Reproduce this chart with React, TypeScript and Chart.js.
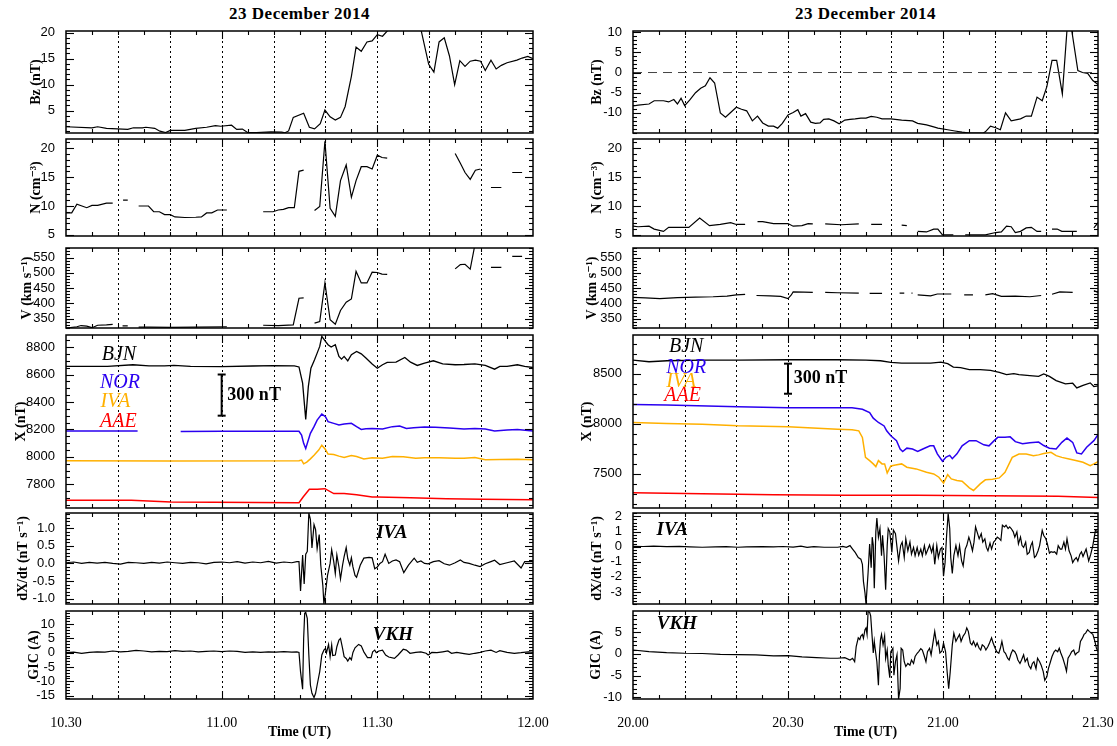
import React, { useEffect, useRef } from "react";
import { Chart, registerables } from "chart.js";
Chart.register(...registerables);

type Pt = [number, number | null];

const TITLE = "23 December 2014";
const LEFT_TIME_LABELS = ["10.30", "11.00", "11.30", "12.00"];
const RIGHT_TIME_LABELS = ["20.00", "20.30", "21.00", "21.30"];
const MAJOR_TIME_MIN = [0, 30, 60, 90];
const DOTTED_MIN = [10, 20, 30, 40, 50, 60, 70, 80];

// ---------------- LEFT COLUMN (10.30-12.00 UT), time in minutes after 10.30 ----------------
const BZ_L: Pt[] = [[0,1.9],[5.0,1.7],[6.1,1.9],[7.8,1.6],[9.9,1.5],[11.9,1.4],[13.0,1.7],[14.7,1.7],[15.4,1.8],[17.1,1.6],[18.1,1.05],[19.2,0.8],[20.1,1.2],[22.9,1.2],[25.0,1.6],[27.1,1.8],[28.8,2.1],[29.8,2.0],[31.9,2.2],[32.9,1.4],[34.0,1.45],[35.0,0.8],[36.7,0.8],[39.5,0.9],[41.6,0.85],[42.2,0.75],[42.9,1.1],[43.8,3.7],[45.8,4.5],[46.9,1.8],[47.9,1.5],[49.0,2.5],[49.9,5.1],[50.9,3.8],[51.9,3.2],[52.9,3.7],[53.8,5.8],[55.0,11.6],[55.9,17.2],[56.9,16.4],[58.0,18.2],[59.0,18.4],[60.0,19.6],[61.0,19.3],[62.0,20.4],[63.0,21.6],[65.0,22.5],[67.0,22.0],[68.2,21.5],[69.9,13.9],[70.9,12.4],[71.9,18.2],[72.9,19.0],[73.9,15.5],[74.9,10.0],[75.9,14.6],[76.9,13.5],[77.9,14.5],[78.9,14.7],[79.9,14.5],[80.8,12.7],[81.9,14.7],[82.9,13.0],[83.9,13.7],[85.0,14.2],[86.9,14.7],[87.9,15.1],[89.0,15.4],[90,15.0]];

const N_L: Pt[] = [[0,8.8],[1.1,8.8],[2.1,10.3],[4.0,9.7],[5.0,10.1],[6.1,10.1],[7.8,10.5],[9.0,10.5],[10,null],[11.0,11.0],[11.9,11.0],[13,null],[14.0,10.0],[15.9,10.0],[16.9,9.0],[18.0,9.0],[19.0,8.5],[20.1,8.5],[21.0,8.1],[22.9,8.0],[25.0,8.05],[26.1,8.1],[27.1,8.8],[28.1,8.8],[29.2,9.3],[31.0,9.3],[35,null],[38.0,9.0],[39.9,9.0],[40.9,9.3],[41.9,9.4],[42.9,9.7],[44.0,9.7],[44.9,16.0],[45.8,16.2],[47,null],[47.9,9.2],[48.9,9.9],[49.9,21.2],[50.9,9.6],[51.9,8.2],[52.9,14.4],[54.0,17.1],[55.0,11.5],[55.9,14.4],[56.9,16.8],[58.0,16.8],[59.0,16.4],[60.0,18.8],[60.9,18.4],[61.9,18.3],[68,null],[75.0,19.1],[76.0,17.4],[76.9,15.8],[77.9,14.6],[78.9,16.2],[79.9,16.4],[81,null],[81.9,13.2],[83.9,13.2],[85,null],[86.0,15.8],[87.9,15.8]];

const V_L: Pt[] = [[0,320],[2.1,324],[2.9,328],[4.0,326],[5.0,321],[6.1,329],[7.8,330],[9.0,332],[10,null],[10.9,327],[11.9,327],[13,null],[14.0,323],[16.1,323],[20.2,322],[25.0,323],[31.0,324],[35,null],[38.0,329],[40.9,328],[43.8,330],[44.9,417],[45.8,418],[47,null],[47.9,336],[48.9,341],[49.9,467],[50.9,347],[51.9,332],[52.9,377],[54.0,404],[55.0,415],[55.9,505],[56.9,467],[58.0,467],[59.0,502],[60.0,501],[60.9,496],[61.9,495],[68,null],[75.0,513],[76.0,527],[76.9,528],[77.9,512],[78.9,600],[80,null],[81.9,518],[83.9,518],[85,null],[86.0,554],[87.9,554]];

const BJN_L: Pt[] = [[0,8659],[8,8660],[12.9,8671],[16,8663],[19,8663],[20.8,8667],[24,8659],[30,8658],[36,8662],[40,8665],[44.0,8663],[44.9,8655],[45.6,8537],[46.2,8273],[46.7,8512],[47.2,8646],[47.9,8707],[48.4,8756],[48.9,8805],[49.3,8878],[50.0,8841],[50.5,8817],[51.1,8800],[51.9,8817],[52.6,8732],[53.1,8712],[53.6,8732],[54.3,8700],[55.0,8744],[56.0,8768],[56.9,8751],[57.8,8720],[59.0,8676],[60.0,8646],[61.0,8671],[61.9,8688],[63.6,8690],[65.3,8724],[66.4,8690],[67.7,8666],[69.1,8683],[70.8,8700],[72.6,8678],[75.0,8671],[76.7,8673],[78.8,8678],[80.8,8666],[82.6,8639],[83.6,8659],[85.0,8659],[87.0,8671],[88.4,8659],[90,8651]];

const NOR_L: Pt[] = [[0,8188],[13.8,8188],[14,null],[22.1,8185],[30,8186],[40,8186],[44.9,8186],[45.4,8159],[45.8,8098],[46.2,8061],[46.5,8098],[47.1,8171],[47.8,8220],[48.4,8268],[49.3,8312],[50.0,8293],[50.5,8256],[51.6,8244],[52.6,8232],[53.6,8239],[55.0,8244],[56.0,8220],[56.9,8200],[57.8,8205],[59.0,8207],[60.0,8205],[61.0,8203],[62.9,8220],[64.3,8224],[65.6,8207],[67.0,8212],[69.1,8217],[71.2,8215],[73.9,8210],[76.7,8203],[78.8,8207],[80.8,8203],[82.6,8188],[85.0,8195],[87.0,8200],[90,8188]];

const IVA_L: Pt[] = [[0,7971],[20,7970],[44.9,7971],[45.4,7976],[45.8,7949],[46.4,7961],[47.1,7985],[47.8,8012],[48.7,8049],[49.3,8085],[50.0,8054],[50.5,8020],[51.6,8017],[52.6,8005],[53.6,7995],[55.0,8010],[56.0,8002],[57.4,7985],[59.0,7993],[61.0,7990],[62.9,8002],[65.0,8000],[67.4,7990],[69.1,7993],[71.9,7993],[75.0,7990],[76.7,7990],[78.8,7995],[80.8,7978],[83.6,7980],[87.0,7983],[90,7978]];

const AAE_L: Pt[] = [[0,7683],[12.6,7683],[20.2,7671],[44.9,7666],[45.7,7707],[46.9,7763],[48.4,7763],[49.9,7768],[51.6,7732],[53.6,7732],[56.0,7724],[59.0,7707],[60.0,7707],[66.4,7702],[73.3,7695],[80.2,7690],[90,7688]];

const DXDT_L: Pt[] = [[0,0.02],[1.5,0.04],[3,0.0],[4.5,0.03],[6,0.01],[7.5,0.03],[9,0.0],[10.5,-0.02],[12,0.03],[13.5,0.02],[15,0.0],[16.5,0.03],[18,0.01],[19.5,0.04],[21,0.02],[22.5,0.0],[24,0.03],[25.5,0.02],[27,-0.01],[28.5,0.03],[30,0.04],[31.5,0.02],[33,0.05],[34.5,0.01],[36,0.04],[37.5,0.02],[39,0.06],[40.5,0.01],[42,0.04],[43.5,0.02],[44.5,0.05],[44.9,0.05],[45.2,-0.78],[45.6,0.24],[45.9,-0.58],[46.2,0.26],[46.5,0.34],[46.8,1.43],[47.1,1.25],[47.4,0.44],[47.8,1.1],[48.1,0.96],[48.4,0.42],[48.8,0.82],[49.1,-0.05],[49.5,-0.63],[49.7,-1.15],[50.0,-0.83],[50.4,-0.34],[50.9,0.0],[51.2,0.39],[51.6,0.05],[51.9,-0.29],[52.2,0.24],[52.6,-0.1],[52.9,-0.44],[53.3,-0.05],[53.6,0.19],[54.0,0.45],[54.3,0.14],[54.7,-0.05],[55.0,0.16],[55.3,-0.1],[55.7,-0.34],[56.0,-0.39],[56.7,-0.05],[57.4,0.15],[58.4,0.17],[59.0,0.16],[59.5,-0.15],[60.0,-0.1],[60.5,0.0],[61.0,0.05],[61.5,0.26],[62.2,0.0],[62.9,0.07],[63.6,0.1],[64.3,0.05],[65.1,-0.26],[66.0,-0.05],[67.1,0.15],[67.7,0.03],[68.4,0.07],[69.1,0.0],[69.8,-0.01],[70.8,0.05],[71.9,0.08],[72.9,-0.01],[73.9,-0.05],[75.0,0.02],[76.0,0.1],[76.7,0.03],[77.7,0.0],[78.8,-0.05],[79.8,-0.09],[80.8,-0.01],[81.9,0.05],[82.6,0.09],[83.6,-0.03],[85.0,0.02],[86.4,0.07],[87.7,-0.13],[88.4,0.05],[90,0.05]];

const GIC_L: Pt[] = [[0,0.0],[1.5,0.2],[3,-0.2],[4.5,0.1],[6,0.3],[7.5,0.2],[9,0.6],[10.5,0.3],[12,0.5],[13.5,0.8],[15,0.6],[16.5,0.3],[18,0.5],[19.5,0.4],[21,0.7],[22.5,0.5],[24,0.6],[25.5,0.3],[27,0.5],[28.5,0.6],[30,0.4],[31.5,0.6],[33,0.5],[34.5,0.1],[36,0.3],[37.5,0.1],[39,0.3],[40.5,0.2],[42,0.4],[43.5,0.2],[44.5,0.3],[44.9,0.1],[45.2,-6.6],[45.6,-12.8],[45.8,5.0],[46.0,13.8],[46.2,14.1],[46.5,12.0],[46.8,-0.8],[47.1,-11.3],[47.4,-14.2],[47.8,-15.7],[48.1,-14.2],[48.4,-11.3],[48.9,-6.6],[49.3,-0.8],[49.7,0.9],[50.0,1.5],[50.2,0.0],[50.6,2.9],[50.9,-1.4],[51.2,2.7],[51.4,-1.0],[51.9,-0.8],[52.2,2.1],[52.6,4.4],[52.9,5.0],[53.3,1.5],[53.6,-1.4],[54.0,-2.0],[54.3,-2.9],[54.7,-1.7],[55.0,-2.5],[55.3,0.1],[55.7,1.7],[56.4,2.9],[56.9,2.4],[57.4,0.3],[58.1,-1.7],[58.8,-1.7],[59.1,0.3],[59.5,0.9],[59.8,0.0],[60.3,0.6],[61.0,0.9],[61.6,-0.8],[62.2,-1.5],[63.3,-2.0],[64.0,-0.8],[65.0,1.2],[65.6,0.9],[66.3,-0.2],[67.4,0.1],[68.4,0.3],[69.4,-0.2],[69.8,-0.8],[70.5,0.1],[71.5,0.0],[72.6,0.3],[73.6,0.6],[74.3,-0.2],[75.3,0.1],[76.7,-0.3],[77.7,-0.6],[78.8,-0.2],[79.8,0.1],[80.8,0.6],[81.9,0.9],[82.9,0.1],[83.6,0.7],[85.0,0.1],[86.4,-0.2],[87.7,0.0],[89.1,0.3],[90,0.1]];

// ---------------- RIGHT COLUMN (20.00-21.30 UT), time in minutes after 20.00 ----------------
const BZ_R: Pt[] = [[0,-8.3],[1.0,-8.1],[3.1,-7.8],[4.1,-7.0],[5.9,-7.0],[6.9,-7.3],[7.9,-6.7],[8.6,-7.8],[9.3,-6.4],[10.0,-8.2],[11.0,-6.8],[12.1,-5.0],[13.1,-3.9],[14.0,-3.3],[14.9,-1.3],[15.8,-2.6],[16.9,-10.0],[17.9,-11.1],[18.9,-9.9],[20.0,-8.6],[21.0,-9.1],[22.0,-9.5],[23.1,-12.0],[24.1,-10.8],[25.1,-12.5],[26.2,-13.3],[27.2,-13.3],[28.0,-13.8],[28.9,-12.6],[30.0,-10.5],[31.0,-9.9],[31.9,-9.2],[32.5,-10.8],[33.4,-10.2],[34.4,-12.3],[35.3,-12.6],[36.2,-12.5],[36.9,-11.6],[37.9,-11.5],[38.9,-12.0],[39.9,-12.7],[41.0,-11.8],[42.0,-11.6],[43.0,-11.5],[44.1,-11.3],[45.1,-11.3],[46.1,-10.9],[47.2,-11.1],[48.2,-11.5],[49.9,-11.5],[52.0,-11.8],[54.1,-12.0],[55.1,-12.6],[56.8,-13.0],[58.2,-13.5],[59.0,-13.8],[60.9,-14.2],[62.3,-14.5],[63.7,-14.8],[65.1,-15.0],[67.8,-15.0],[68.2,-14.7],[69.2,-13.3],[70.2,-13.7],[71.1,-14.2],[72.1,-10.0],[73.2,-12.0],[75.0,-11.5],[76.1,-10.8],[77.1,-10.8],[78.2,-6.1],[79.2,-7.0],[80.1,-3.5],[81.1,3.0],[82.0,3.0],[83.1,-5.3],[84.0,10.6],[84.9,10.6],[86.1,0.5],[87.0,0.0],[88.0,-0.2],[89.0,-2.0],[90,-3.0]];
const BZ_ZERO_R: Pt[] = [[0,0],[90,0]];

const N_R: Pt[] = [[0,6.5],[1.0,6.4],[3.1,6.5],[4.1,6.0],[5.9,5.6],[6.9,6.3],[9.0,6.3],[10.8,6.3],[12.9,7.9],[14.8,6.6],[16.9,6.8],[18.9,7.1],[20.0,6.8],[21.7,6.8],[22.8,null],[24.1,7.3],[25.1,7.3],[27.2,6.95],[30.0,6.95],[31.0,6.5],[32.7,6.6],[33.9,6.95],[34.8,6.9],[36,null],[37.2,6.9],[40.3,6.75],[43.7,6.9],[45,null],[46.1,6.8],[48.2,6.8],[50,null],[52.0,6.7],[53.0,6.6],[54,null],[55.1,5.6],[56.8,5.5],[58.2,6.0],[59.0,6.0],[59.9,5.0],[62.0,5.0],[63,null],[64.3,5.0],[68.2,5.0],[70.2,5.4],[71.3,5.5],[72.3,6.5],[73.2,6.4],[74.0,5.4],[75.0,5.6],[76.1,6.2],[77.1,6.3],[78.2,5.6],[79.0,5.6],[80,null],[81.1,6.0],[82.1,6.0],[83.0,5.6],[85.9,5.6],[87,null],[89.2,6.2],[90,7.1]];

const V_R: Pt[] = [[0,420],[2.4,418],[5.2,416],[8.6,419],[12.1,421],[15.5,422],[18.2,424],[20.0,428],[21.7,430],[22.8,null],[23.9,426],[26.5,425],[28.6,423],[30.0,416],[30.6,427],[31.0,438],[33.1,437],[34.8,436],[36,null],[37.2,436],[39.6,435],[43.7,434],[45,null],[45.8,433],[48.2,433],[50,null],[51.6,434],[52.5,434],[53.2,null],[53.9,434],[54.1,434],[54.6,null],[55.1,428],[57.6,425],[58.9,431],[61.6,431],[63,null],[64.1,428],[65.8,428],[67,null],[68.2,428],[69.6,432],[71.3,423],[74.0,424],[76.8,422],[79.0,426],[80,null],[81.1,430],[82.6,438],[85.1,436],[87,null],[89.2,442],[90,436]];

const BJN_R: Pt[] = [[0,8635],[3.1,8619],[6.6,8629],[13.5,8635],[20.4,8635],[30.0,8639],[39.6,8639],[45.1,8636],[47.9,8629],[49.9,8612],[52.0,8606],[54.8,8606],[57.6,8606],[59.6,8616],[60.9,8600],[62.0,8566],[63.4,8560],[65.1,8540],[67.2,8540],[69.2,8534],[70.9,8513],[72.3,8490],[73.7,8500],[74.7,8490],[76.8,8480],[78.5,8473],[79.5,8497],[80.6,8473],[81.9,8431],[83.7,8398],[85.1,8405],[85.9,8358],[87.1,8384],[88.5,8408],[89.2,8372],[90,8378]];

const NOR_R: Pt[] = [[0,8193],[6.5,8188],[20.3,8170],[30.0,8160],[42.4,8160],[44.4,8145],[45.8,8112],[46.5,8056],[47.5,8013],[48.6,7979],[49.1,7930],[49.9,7880],[51.0,7832],[51.7,7749],[52.2,7724],[53.0,7757],[54.1,7749],[55.1,7724],[56.1,7749],[57.5,7780],[58.2,7780],[58.9,7700],[59.9,7627],[60.6,7668],[61.3,7685],[61.8,7652],[62.7,7700],[63.7,7780],[65.1,7832],[66.4,7832],[67.9,7790],[68.9,7780],[69.9,7832],[70.6,7865],[72.0,7865],[73.0,7870],[74.0,7822],[75.4,7802],[76.8,7812],[78.5,7818],[79.5,7783],[80.6,7757],[81.9,7749],[83.0,7815],[84.0,7858],[85.1,7815],[85.9,7710],[86.8,7700],[87.8,7766],[89.2,7832],[90,7892]];

const IVA_R: Pt[] = [[0,8012],[6.5,8002],[13.4,7995],[20.3,7980],[30.0,7970],[39.6,7946],[42.4,7940],[43.7,7930],[44.4,7864],[45.0,7666],[45.8,7633],[46.5,7600],[47.0,7573],[47.5,7633],[48.2,7600],[48.7,7600],[49.2,7510],[49.9,7580],[50.8,7589],[52.0,7600],[53.0,7567],[54.8,7550],[56.8,7516],[58.2,7500],[59.2,7467],[60.1,7408],[60.9,7493],[61.6,7450],[62.7,7434],[63.7,7427],[65.1,7361],[65.9,7335],[67.2,7401],[68.2,7441],[69.6,7447],[70.9,7460],[72.0,7517],[73.4,7665],[74.7,7698],[76.1,7698],[77.5,7682],[78.5,7690],[79.5,7703],[80.9,7715],[81.9,7682],[83.0,7665],[84.4,7649],[85.7,7633],[87.1,7616],[88.5,7583],[89.2,7600],[90,7622]];

const AAE_R: Pt[] = [[0,7312],[13.4,7302],[27.2,7292],[41.0,7286],[54.8,7286],[68.5,7283],[82.3,7277],[90,7266]];

const DXDT_R: Pt[] = [[0,0.02],[2,0.01],[4,0.03],[6.5,0.0],[9,0.02],[11,-0.01],[13.4,-0.04],[16,-0.02],[18,0.0],[20.3,-0.04],[22,-0.02],[25,0.0],[27.2,-0.02],[29,0.01],[31,-0.03],[32.5,0.03],[33.7,-0.05],[35,0.0],[37,-0.04],[39.6,-0.04],[40.6,0.02],[41.3,-0.04],[42.0,0.07],[42.5,-0.16],[43.0,-0.38],[43.6,-0.72],[44.1,-0.83],[44.4,-1.17],[44.6,-2.3],[44.9,-3.07],[45.1,-3.8],[45.5,-1.73],[45.8,0.18],[46.1,-1.4],[46.3,0.63],[46.5,0.11],[46.7,-2.75],[47.0,0.98],[47.2,1.89],[47.5,0.63],[47.8,1.2],[48.1,-0.6],[48.3,0.76],[48.6,-0.6],[48.9,-2.86],[49.2,0.07],[49.4,1.2],[49.7,0.98],[50.1,-0.38],[50.4,1.1],[50.8,0.86],[51.1,-0.05],[51.4,-0.95],[51.8,0.07],[52.1,0.3],[52.5,-0.72],[52.8,0.52],[53.2,-0.27],[53.6,0.3],[53.9,-0.5],[54.3,-0.05],[54.6,-0.6],[55.0,-0.05],[55.3,-0.56],[55.7,-0.16],[56.0,-0.6],[56.4,0.07],[56.7,-0.5],[57.1,-0.16],[57.4,0.11],[57.8,-0.38],[58.1,0.07],[58.4,-1.17],[58.8,0.07],[59.1,-0.72],[59.5,-0.16],[59.8,-0.05],[60.1,-1.96],[60.4,-1.06],[60.7,0.76],[61.0,2.2],[61.3,1.2],[61.5,-0.72],[61.8,-1.77],[62.1,-0.6],[62.5,0.07],[62.9,-0.6],[63.2,0.07],[63.6,-0.95],[63.9,-1.28],[64.3,-0.16],[64.6,0.07],[65.0,0.63],[65.3,0.3],[65.7,-0.27],[66.0,0.3],[66.3,1.31],[66.7,0.86],[67.0,0.52],[67.4,0.86],[67.7,0.3],[68.1,0.52],[68.4,-0.05],[68.7,-0.27],[69.1,0.23],[69.4,-0.16],[69.8,0.3],[70.1,0.41],[70.5,0.63],[70.8,0.56],[71.2,0.41],[71.5,1.42],[71.9,1.31],[72.2,1.42],[72.6,1.2],[72.9,1.31],[73.2,1.2],[73.6,0.98],[73.9,0.63],[74.3,0.98],[74.6,0.18],[75.0,0.63],[75.3,0.07],[75.6,-0.05],[76.0,0.3],[76.3,-0.5],[76.7,-0.38],[77.0,0.07],[77.3,0.3],[77.7,-0.72],[78.0,-0.61],[78.4,-0.27],[78.7,0.07],[79.2,1.08],[79.5,0.74],[79.9,0.52],[80.2,0.18],[80.6,-0.43],[80.9,-0.34],[81.3,-0.38],[81.6,-0.34],[82.0,-0.5],[82.3,0.07],[82.7,-0.16],[83.0,-0.16],[83.4,0.3],[83.7,-0.16],[84.0,0.52],[84.4,-0.27],[84.8,-0.61],[85.1,-1.06],[85.4,-0.88],[85.8,-0.72],[86.1,-0.95],[86.5,-0.5],[86.8,-0.34],[87.1,-0.65],[87.7,-0.16],[88.2,-0.95],[88.6,-0.5],[89.0,0.07],[89.5,1.08],[90,0.97]];

const GIC_R: Pt[] = [[0,0.9],[3.1,0.55],[6.5,0.3],[10.0,0.15],[13.4,0.1],[16.9,-0.1],[20.3,-0.15],[23.8,-0.2],[27.2,-0.45],[30.0,-0.4],[32.7,-0.7],[35.5,-0.85],[38.2,-1.0],[39.6,-1.0],[41.0,-0.85],[42.0,-1.4],[42.5,-1.0],[42.9,-1.8],[43.2,1.7],[43.6,3.7],[43.9,3.3],[44.1,4.1],[44.4,4.5],[44.6,3.6],[44.9,5.6],[45.1,6.0],[45.3,4.5],[45.5,9.8],[45.8,9.6],[46.0,8.8],[46.3,3.7],[46.5,0.2],[46.7,2.9],[46.9,0.9],[47.2,-1.8],[47.5,-7.2],[47.7,-0.2],[47.9,3.3],[48.1,4.5],[48.4,2.1],[48.7,4.1],[48.9,-1.0],[49.2,0.9],[49.4,-2.6],[49.7,-5.5],[49.9,0.5],[50.3,1.3],[50.5,-4.9],[50.8,-1.8],[51.1,-0.2],[51.4,-10.4],[51.7,-8.0],[51.9,1.3],[52.2,0.9],[52.5,-1.8],[52.8,-2.9],[53.2,-2.2],[53.6,-2.6],[53.9,-1.4],[54.3,-2.2],[54.6,-0.6],[55.0,0.15],[55.3,0.55],[55.7,1.2],[56.0,0.9],[56.3,-0.2],[56.7,-1.8],[57.0,0.5],[57.4,1.3],[57.7,-0.2],[58.1,2.9],[58.4,5.2],[58.8,2.1],[59.1,2.9],[59.4,0.2],[59.8,0.7],[60.1,2.5],[60.5,0.5],[60.8,-4.1],[61.1,-8.0],[61.4,-4.1],[61.8,2.1],[62.1,4.8],[62.5,2.9],[62.8,3.6],[63.2,4.5],[63.5,2.9],[63.9,4.1],[64.3,4.8],[64.6,6.0],[64.9,5.2],[65.3,2.5],[65.6,2.1],[65.9,2.9],[66.3,1.7],[66.6,2.5],[67.0,1.3],[67.3,0.9],[67.6,2.1],[68.0,1.7],[68.3,0.9],[68.7,1.7],[69.0,2.5],[69.4,3.7],[69.7,2.5],[70.1,1.3],[70.4,0.5],[70.8,0.15],[71.1,1.3],[71.4,2.9],[71.8,0.5],[72.1,0.15],[72.5,-1.0],[72.8,-1.4],[73.2,0.15],[73.5,0.9],[73.9,0.5],[74.2,-0.2],[74.5,-1.4],[74.9,-2.2],[75.2,-1.4],[75.6,-0.2],[75.9,-1.8],[76.3,-1.0],[76.6,-2.6],[77.0,-3.4],[77.3,-2.2],[77.6,-1.8],[78.0,-3.4],[78.3,-1.0],[78.7,-1.8],[79.0,-2.6],[79.4,-4.1],[79.7,-6.1],[80.1,-5.3],[80.4,-3.4],[80.8,-1.8],[81.1,-0.6],[81.5,0.5],[81.8,0.9],[82.2,0.5],[82.5,1.3],[82.8,0.2],[83.2,-1.0],[83.6,-2.6],[83.9,-4.0],[84.2,-1.0],[84.6,-0.2],[84.9,0.5],[85.3,0.9],[85.6,-0.2],[85.9,0.2],[86.3,0.5],[86.6,2.9],[87.0,3.7],[87.3,4.5],[87.6,4.8],[88.0,5.6],[88.3,5.2],[88.7,4.8],[89.0,4.5],[89.4,2.9],[89.7,1.3],[90,0.55]];

// ---------------- axis ranges / tick labels ----------------
const BZ_L_TICKS = [5, 10, 15, 20];
const BZ_R_TICKS = [-10, -5, 0, 5, 10];
const N_TICKS = [5, 10, 15, 20];
const V_TICKS = [350, 400, 450, 500, 550];
const X_L_TICKS = [7800, 8000, 8200, 8400, 8600, 8800];
const X_R_TICKS = [7500, 8000, 8500];
const DXDT_L_TICKS = [-1.0, -0.5, 0.0, 0.5, 1.0];
const DXDT_R_TICKS = [-3, -2, -1, 0, 1, 2];
const GIC_L_TICKS = [-15, -10, -5, 0, 5, 10];
const GIC_R_TICKS = [-10, -5, 0, 5];

const BLUE = "#2a00f0";
const ORANGE = "#ffb000";
const RED = "#ff0000";
const SERIF = '"Liberation Serif", "DejaVu Serif", serif';
const SANS = '"Liberation Sans", "DejaVu Sans", sans-serif';

interface Series { data: Pt[]; color: string; width: number; dash?: number[] }
interface Note { text: string; x: number; y: number; color: string; font: string }
interface Bar { x: number; y0: number; y1: number; text: string; textX: number }
interface PanelCfg {
  key: string;
  plotLeft: number; plotTop: number; plotW: number; plotH: number; axisW: number;
  yMin: number; yMax: number; yTicks: number[]; yMinor: number; yDec: number; yTitle: string;
  series: Series[]; notes?: Note[]; bar?: Bar; timeLabels?: string[];
}

const COL_L = { left: 66, w: 467 };
const COL_R = { left: 633, w: 465 };
const ROWS: [number, number][] = [[31, 133], [139, 236], [248, 328], [335, 508], [513, 604], [611, 699]];

const NOTE_FONT = `italic 20px ${SERIF}`;
const NOTE_FONT_B = `italic bold 19px ${SERIF}`;

function mk(col: { left: number; w: number }, row: number, axisW: number, rest: Partial<PanelCfg>): PanelCfg {
  const [t, b] = ROWS[row];
  return {
    key: `${col.left}-${row}`,
    plotLeft: col.left, plotTop: t, plotW: col.w, plotH: b - t, axisW,
    yMin: 0, yMax: 1, yTicks: [], yMinor: 1, yDec: 0, yTitle: "", series: [],
    ...rest,
  } as PanelCfg;
}

const PANELS: PanelCfg[] = [
  mk(COL_L, 0, 38, { yMin: 0.7, yMax: 20.3, yTicks: BZ_L_TICKS, yMinor: 1, yTitle: "Bz (nT)", series: [{ data: BZ_L, color: "#000", width: 1.2 }] }),
  mk(COL_L, 1, 38, { yMin: 4.8, yMax: 21.6, yTicks: N_TICKS, yMinor: 1, yTitle: "N (cm⁻³)", series: [{ data: N_L, color: "#000", width: 1.2 }] }),
  mk(COL_L, 2, 47, { yMin: 320, yMax: 581, yTicks: V_TICKS, yMinor: 10, yTitle: "V (km s⁻¹)", series: [{ data: V_L, color: "#000", width: 1.2 }] }),
  mk(COL_L, 3, 53, {
    yMin: 7627, yMax: 8888, yTicks: X_L_TICKS, yMinor: 50, yTitle: "X (nT)",
    series: [
      { data: AAE_L, color: RED, width: 1.5 },
      { data: IVA_L, color: ORANGE, width: 1.5 },
      { data: NOR_L, color: BLUE, width: 1.5 },
      { data: BJN_L, color: "#000", width: 1.3 },
    ],
    notes: [
      { text: "BJN", x: 10.2, y: 8744, color: "#000", font: NOTE_FONT },
      { text: "NOR", x: 10.4, y: 8541, color: BLUE, font: NOTE_FONT },
      { text: "IVA", x: 9.5, y: 8402, color: ORANGE, font: NOTE_FONT },
      { text: "AAE", x: 10.1, y: 8256, color: RED, font: NOTE_FONT },
    ],
    bar: { x: 30.0, y0: 8300, y1: 8600, text: "300 nT", textX: 31.1 },
  }),
  mk(COL_L, 4, 51, {
    yMin: -1.15, yMax: 1.43, yTicks: DXDT_L_TICKS, yMinor: 0.1, yDec: 1, yTitle: "dX/dt (nT s⁻¹)",
    series: [{ data: DXDT_L, color: "#000", width: 1.2 }],
    notes: [{ text: "IVA", x: 62.8, y: 0.86, color: "#000", font: NOTE_FONT_B }],
  }),
  mk(COL_L, 5, 40, {
    yMin: -16.2, yMax: 14.6, yTicks: GIC_L_TICKS, yMinor: 1, yTitle: "GIC (A)",
    series: [{ data: GIC_L, color: "#000", width: 1.2 }],
    notes: [{ text: "VKH", x: 63.0, y: 6.3, color: "#000", font: NOTE_FONT_B }],
    timeLabels: LEFT_TIME_LABELS,
  }),
  mk(COL_R, 0, 44, {
    yMin: -15, yMax: 10.3, yTicks: BZ_R_TICKS, yMinor: 1, yTitle: "Bz (nT)",
    series: [
      { data: BZ_ZERO_R, color: "#444", width: 1, dash: [9, 6] },
      { data: BZ_R, color: "#000", width: 1.2 },
    ],
  }),
  mk(COL_R, 1, 44, { yMin: 4.8, yMax: 21.6, yTicks: N_TICKS, yMinor: 1, yTitle: "N (cm⁻³)", series: [{ data: N_R, color: "#000", width: 1.2 }] }),
  mk(COL_R, 2, 49, { yMin: 320, yMax: 581, yTicks: V_TICKS, yMinor: 10, yTitle: "V (km s⁻¹)", series: [{ data: V_R, color: "#000", width: 1.2 }] }),
  mk(COL_R, 3, 54, {
    yMin: 7160, yMax: 8886, yTicks: X_R_TICKS, yMinor: 100, yTitle: "X (nT)",
    series: [
      { data: AAE_R, color: RED, width: 1.5 },
      { data: IVA_R, color: ORANGE, width: 1.5 },
      { data: NOR_R, color: BLUE, width: 1.5 },
      { data: BJN_R, color: "#000", width: 1.3 },
    ],
    notes: [
      { text: "BJN", x: 10.3, y: 8764, color: "#000", font: NOTE_FONT },
      { text: "NOR", x: 10.3, y: 8556, color: BLUE, font: NOTE_FONT },
      { text: "IVA", x: 9.3, y: 8417, color: ORANGE, font: NOTE_FONT },
      { text: "AAE", x: 9.6, y: 8276, color: RED, font: NOTE_FONT },
    ],
    bar: { x: 30.0, y0: 8300, y1: 8600, text: "300 nT", textX: 31.1 },
  }),
  mk(COL_R, 4, 44, {
    yMin: -3.8, yMax: 2.23, yTicks: DXDT_R_TICKS, yMinor: 0.2, yTitle: "dX/dt (nT s⁻¹)",
    series: [{ data: DXDT_R, color: "#000", width: 1.2 }],
    notes: [{ text: "IVA", x: 7.6, y: 1.1, color: "#000", font: NOTE_FONT_B }],
  }),
  mk(COL_R, 5, 45, {
    yMin: -10.4, yMax: 9.9, yTicks: GIC_R_TICKS, yMinor: 1, yTitle: "GIC (A)",
    series: [{ data: GIC_R, color: "#000", width: 1.2 }],
    notes: [{ text: "VKH", x: 8.5, y: 6.8, color: "#000", font: NOTE_FONT_B }],
    timeLabels: RIGHT_TIME_LABELS,
  }),
];

const PT = 10;
const PB = 10;
const XH = 42;

function idlPlugin(cfg: PanelCfg) {
  return {
    id: "idl",
    beforeDatasetsDraw(chart: any) {
      const { ctx, chartArea: a } = chart;
      const x = chart.scales.x;
      ctx.save();
      ctx.beginPath();
      ctx.rect(a.left, a.top, a.right - a.left, a.bottom - a.top);
      ctx.clip();
      ctx.strokeStyle = "#000";
      ctx.lineWidth = 1;
      ctx.setLineDash([2, 3]);
      for (const m of DOTTED_MIN) {
        const px = Math.round(x.getPixelForValue(m)) + 0.5;
        ctx.beginPath();
        ctx.moveTo(px, a.top);
        ctx.lineTo(px, a.bottom);
        ctx.stroke();
      }
      ctx.restore();
    },
    afterDatasetsDraw(chart: any) {
      const { ctx, chartArea: a } = chart;
      const x = chart.scales.x;
      const y = chart.scales.y;
      ctx.save();
      ctx.setLineDash([]);
      ctx.strokeStyle = "#000";
      ctx.lineWidth = 1.1;
      const line = (x1: number, y1: number, x2: number, y2: number) => {
        ctx.beginPath();
        ctx.moveTo(x1, y1);
        ctx.lineTo(x2, y2);
        ctx.stroke();
      };
      // time ticks (inside, top & bottom)
      for (let m = 5; m < 90; m += 5) {
        const L = MAJOR_TIME_MIN.includes(m) ? 8 : 4;
        const px = Math.round(x.getPixelForValue(m)) + 0.5;
        line(px, a.bottom, px, a.bottom - L);
        line(px, a.top, px, a.top + L);
      }
      // value ticks (inside, left & right)
      const st = cfg.yMinor;
      const k0 = Math.ceil(cfg.yMin / st - 1e-6);
      const k1 = Math.floor(cfg.yMax / st + 1e-6);
      for (let k = k0; k <= k1; k++) {
        const v = k * st;
        const major = cfg.yTicks.some((t) => Math.abs(t - v) < st / 10);
        const L = major ? 8 : 4;
        const py = Math.round(y.getPixelForValue(v)) + 0.5;
        line(a.left, py, a.left + L, py);
        line(a.right, py, a.right - L, py);
      }
      // frame
      ctx.lineWidth = 1.5;
      ctx.strokeRect(a.left, a.top, a.right - a.left, a.bottom - a.top);
      // scale bar
      if (cfg.bar) {
        const b = cfg.bar;
        const bx = x.getPixelForValue(b.x);
        const p0 = y.getPixelForValue(b.y0);
        const p1 = y.getPixelForValue(b.y1);
        ctx.lineWidth = 2;
        line(bx, p0, bx, p1);
        line(bx - 4, p0, bx + 4, p0);
        line(bx - 4, p1, bx + 4, p1);
        ctx.fillStyle = "#000";
        ctx.font = `bold 18px ${SERIF}`;
        ctx.textAlign = "left";
        ctx.textBaseline = "middle";
        ctx.fillText(b.text, x.getPixelForValue(b.textX), (p0 + p1) / 2);
      }
      // station labels
      for (const n of cfg.notes || []) {
        ctx.font = n.font;
        ctx.fillStyle = n.color;
        ctx.textAlign = "center";
        ctx.textBaseline = "middle";
        ctx.fillText(n.text, x.getPixelForValue(n.x), y.getPixelForValue(n.y));
      }
      ctx.restore();
    },
  };
}

function Panel({ cfg }: { cfg: PanelCfg }) {
  const ref = useRef<HTMLCanvasElement>(null);
  const bottom = !!cfg.timeLabels;
  const PR = bottom ? 24 : 10;
  const cw = cfg.axisW + cfg.plotW + PR;
  const ch = PT + cfg.plotH + (bottom ? XH : PB);
  useEffect(() => {
    const canvas = ref.current;
    if (!canvas) return;
    const xScale: any = bottom
      ? {
          type: "linear", min: 0, max: 90, position: "bottom",
          afterBuildTicks: (s: any) => { s.ticks = MAJOR_TIME_MIN.map((v) => ({ value: v })); },
          afterFit: (s: any) => { s.height = XH; s.paddingLeft = 0; s.paddingRight = 0; },
          ticks: {
            callback: (_v: any, i: number) => (cfg.timeLabels as string[])[i],
            font: { family: SERIF, size: 14 }, color: "#000", padding: 8, maxRotation: 0, minRotation: 0, autoSkip: false,
          },
          grid: { display: false }, border: { display: false },
          title: { display: true, text: "Time (UT)", color: "#000", font: { family: SERIF, size: 14, weight: "bold" }, padding: 0 },
        }
      : { type: "linear", min: 0, max: 90, display: false };
    const chart = new Chart(canvas, {
      type: "line",
      data: {
        datasets: cfg.series.map((s) => ({
          data: s.data.map(([t, v]) => ({ x: t, y: v })),
          borderColor: s.color,
          backgroundColor: s.color,
          borderWidth: s.width,
          borderDash: s.dash || [],
          pointRadius: 0,
          pointHoverRadius: 0,
          tension: 0,
          spanGaps: false,
          fill: false,
        })) as any,
      },
      options: {
        animation: false,
        responsive: false,
        devicePixelRatio: 1,
        events: [],
        layout: { padding: { top: PT, left: 0, right: PR, bottom: bottom ? 0 : PB } },
        plugins: { legend: { display: false }, tooltip: { enabled: false }, title: { display: false } },
        scales: {
          x: xScale,
          y: {
            type: "linear", min: cfg.yMin, max: cfg.yMax, position: "left",
            afterBuildTicks: (s: any) => { s.ticks = cfg.yTicks.map((v) => ({ value: v })); },
            afterFit: (s: any) => { s.width = cfg.axisW; s.paddingTop = 0; s.paddingBottom = 0; },
            ticks: {
              callback: (v: any) => Number(v).toFixed(cfg.yDec),
              font: { family: SANS, size: 13 }, color: "#000", padding: 3, autoSkip: false,
            },
            grid: { display: false }, border: { display: false },
            title: { display: true, text: cfg.yTitle, color: "#000", font: { family: SERIF, size: 14, weight: "bold" }, padding: 0 },
          } as any,
        },
      },
      plugins: [idlPlugin(cfg) as any],
    });
    return () => chart.destroy();
  }, [cfg]);
  return (
    <canvas
      ref={ref}
      width={cw}
      height={ch}
      style={{ position: "absolute", left: cfg.plotLeft - cfg.axisW, top: cfg.plotTop - PT, width: cw, height: ch }}
    />
  );
}

export default function App() {
  const titleStyle = (col: { left: number; w: number }): React.CSSProperties => ({
    position: "absolute", left: col.left, width: col.w, top: 4, textAlign: "center",
    font: `bold 17px ${SERIF}`, letterSpacing: "0.5px", lineHeight: "20px", color: "#000",
  });
  return (
    <div style={{ position: "fixed", left: 0, top: 0, width: 1117, height: 746, background: "#fff", overflow: "hidden" }}>
      <div style={titleStyle(COL_L)}>{TITLE}</div>
      <div style={titleStyle(COL_R)}>{TITLE}</div>
      {PANELS.map((p) => (
        <Panel key={p.key} cfg={p} />
      ))}
    </div>
  );
}
